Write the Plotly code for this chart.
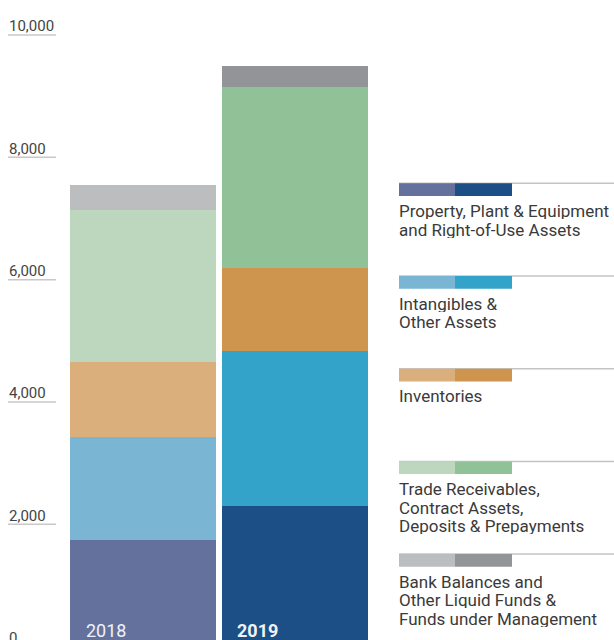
import plotly.graph_objects as go

# Group assets by category, HK$ million
years = ["2018", "2019"]
ppe = [1745, 2300]            # Property, Plant & Equipment and Right-of-Use Assets
intangibles = [1680, 2530]    # Intangibles & Other Assets
inventories = [1230, 1360]    # Inventories
receivables = [2485, 2960]    # Trade Receivables, Contract Assets, Deposits & Prepayments
bank = [410, 345]             # Bank Balances, Liquid Funds & Funds under Management

y_ticks = [0, 2000, 4000, 6000, 8000, 10000]

series_names = [
    ["Property, Plant & Equipment", "and Right-of-Use Assets"],
    ["Intangibles &", "Other Assets"],
    ["Inventories"],
    ["Trade Receivables,", "Contract Assets,", "Deposits & Prepayments"],
    ["Bank Balances and", "Other Liquid Funds &", "Funds under Management"],
]
series_values = [ppe, intangibles, inventories, receivables, bank]
# (2018 shade, 2019 shade) for each category
series_colors = [
    ("#64719c", "#1b4f85"),
    ("#7ab6d4", "#34a3c9"),
    ("#dbaf7b", "#ce954f"),
    ("#bcd7bd", "#91c197"),
    ("#bcbdbf", "#939498"),
]

W, H = 614, 640
FONT = "Roboto"
TEXT = "#3a3a3a"
Y_RANGE = [108, 10572]

fig = go.Figure()
for names, vals, cols in zip(series_names, series_values, series_colors):
    fig.add_trace(go.Bar(
        x=years, y=vals, name=" ".join(names),
        marker=dict(color=list(cols), line=dict(width=0)),
        hoverinfo="skip",
    ))

shapes = []
annotations = []


def y_domain(v):
    """Fraction of the y-axis domain for a data value (works outside the range)."""
    return (v - Y_RANGE[0]) / (Y_RANGE[1] - Y_RANGE[0])


# y-axis ticks: short underline with the value sitting above it
for v in y_ticks:
    shapes.append(dict(type="line", xref="paper", yref="y",
                       x0=8 / W, x1=56 / W, y0=v, y1=v,
                       line=dict(color="#c8c8c8", width=1.5)))
    annotations.append(dict(xref="paper", yref="y domain", x=7 / W, y=y_domain(v),
                            xanchor="left", yanchor="middle", yshift=8.5,
                            text=f"{v:,}", showarrow=False,
                            font=dict(family=FONT, size=15, color="#444444")))

# year labels at the foot of each bar
for idx, (yr, bold) in enumerate(zip(years, [False, True])):
    annotations.append(dict(xref="x", yref="paper", x=idx, y=1 - 630.5 / H,
                            xanchor="left", yanchor="middle",
                            xshift=-60 if bold else -59,
                            text=f"<b>{yr}</b>" if bold else yr, showarrow=False,
                            font=dict(family=FONT, size=18, color="#f2f2f6")))

# legend: rule, two-tone swatch, and label lines
top0, step = 183.3, 92.7
for i, (names, cols) in enumerate(zip(series_names, series_colors)):
    top = top0 + i * step
    shapes.append(dict(type="line", xref="paper", yref="paper",
                       x0=399 / W, x1=1, y0=1 - top / H, y1=1 - top / H,
                       line=dict(color="#c4c4c4", width=1.5)))
    shapes.append(dict(type="rect", xref="paper", yref="paper",
                       x0=399 / W, x1=455 / W, y0=1 - (top + 12.7) / H, y1=1 - top / H,
                       fillcolor=cols[0], line=dict(width=0)))
    shapes.append(dict(type="rect", xref="paper", yref="paper",
                       x0=455 / W, x1=512 / W, y0=1 - (top + 12.7) / H, y1=1 - top / H,
                       fillcolor=cols[1], line=dict(width=0)))
    for j, line in enumerate(names):
        baseline = top + 33 + j * 18.5
        annotations.append(dict(xref="paper", yref="paper", x=398 / W,
                                y=1 - (baseline - 5.8) / H,
                                xanchor="left", yanchor="middle",
                                height=17, borderpad=0,
                                text=line, showarrow=False,
                                font=dict(family=FONT, size=17, color=TEXT)))

fig.update_layout(
    width=W, height=H,
    margin=dict(l=0, r=0, t=0, b=0),
    paper_bgcolor="white", plot_bgcolor="white",
    barmode="stack", bargap=6 / 152,
    showlegend=False,
    xaxis=dict(visible=False, domain=[67 / W, 371 / W], range=[-0.5, 1.5],
               type="category"),
    yaxis=dict(visible=False, domain=[0, 1], range=Y_RANGE),
    shapes=shapes, annotations=annotations,
)

fig.write_html("out.html")
